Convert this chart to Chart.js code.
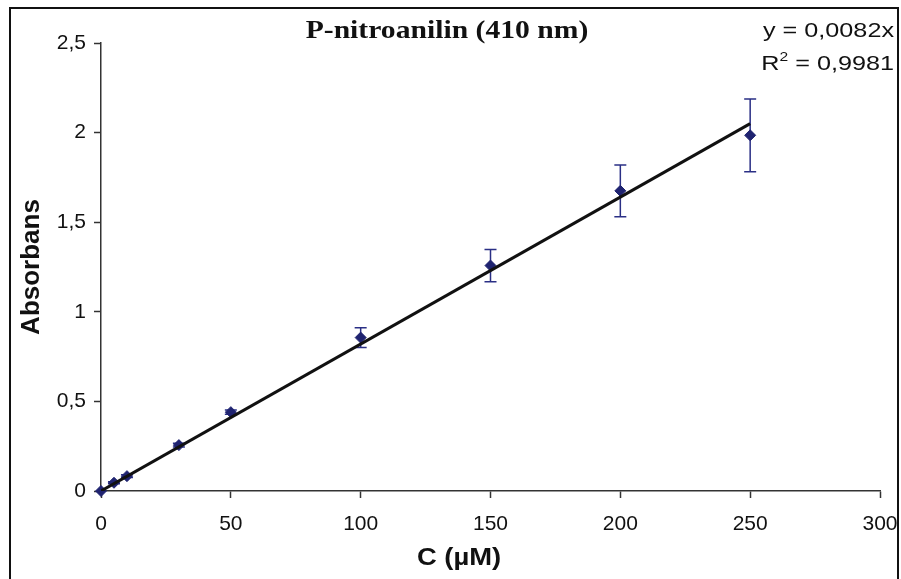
<!DOCTYPE html>
<html>
<head>
<meta charset="utf-8">
<script src="https://cdn.jsdelivr.net/npm/chart.js"></script>
<style>
  html, body { margin: 0; padding: 0; background: #fff; }
  #wrap { position: relative; width: 901px; height: 579px; }
</style>
</head>
<body>
<div id="wrap"><canvas id="chart" width="901" height="579"></canvas></div>
<script>
// data
const concentrations = [0, 5, 10, 30, 50, 100, 150, 200, 250];
const absorbance = [0, 0.046, 0.083, 0.256, 0.44, 0.856, 1.258, 1.675, 1.985];
const stdDev = [0, 0.006, 0.008, 0.01, 0.012, 0.055, 0.09, 0.144, 0.203];
const trendX = [0, 250];
const trendY = [0, 2.05];
const xTicks = [0, 50, 100, 150, 200, 250, 300];
const yTicks = [0, 0.5, 1, 1.5, 2, 2.5];

const titleText = 'P-nitroanilin (410 nm)';
const xTitle = 'C (\u00b5M)';
const yTitle = 'Absorbans';
const eqLine = 'y = 0,0082x';
const r2Value = ' = 0,9981';

const navy = '#1f2370';
const sans = '"Liberation Sans", Arial, sans-serif';
const fmt = v => String(v).replace('.', ',');

// text stretched sideways to match the original's wide lettering
function wideText(ctx, text, x, y, sx, align) {
  ctx.save();
  ctx.translate(x, y);
  ctx.scale(sx, 1);
  ctx.textAlign = align;
  ctx.fillText(text, 0, 0);
  ctx.restore();
}

// frame, title, trendline label and x title
const decorations = {
  id: 'decorations',
  afterDraw(chart) {
    const ctx = chart.ctx;
    ctx.save();
    ctx.strokeStyle = '#111';
    ctx.lineWidth = 2;
    ctx.strokeRect(10, 8, 888, 600);

    ctx.fillStyle = '#111';
    ctx.textBaseline = 'alphabetic';
    ctx.font = 'bold 26px "Liberation Serif", "Times New Roman", serif';
    wideText(ctx, titleText, 447, 38, 1.14, 'center');

    ctx.font = 'bold 23px ' + sans;
    wideText(ctx, xTitle, 459, 565, 1.19, 'center');

    // y = ..., R² = ... (right aligned at the frame)
    const sx = 1.2;
    const right = 894;
    ctx.font = '21px ' + sans;
    wideText(ctx, eqLine, right, 37, sx, 'right');
    const restW = ctx.measureText(r2Value).width * sx;
    wideText(ctx, r2Value, right, 70, sx, 'right');
    ctx.font = '13px ' + sans;
    const supW = ctx.measureText('2').width * sx;
    wideText(ctx, '2', right - restW, 61, sx, 'right');
    ctx.font = '21px ' + sans;
    wideText(ctx, 'R', right - restW - supW, 70, sx, 'right');
    ctx.restore();
  }
};

// error bars from the std devs, through the chart's scales
const errorBars = {
  id: 'errorBars',
  beforeDatasetsDraw(chart) {
    const { ctx, scales: { x, y } } = chart;
    ctx.save();
    ctx.strokeStyle = '#2a2f85';
    ctx.lineWidth = 1.5;
    concentrations.forEach((c, i) => {
      if (!stdDev[i]) return;
      const px = x.getPixelForValue(c);
      const top = y.getPixelForValue(absorbance[i] + stdDev[i]);
      const bot = y.getPixelForValue(absorbance[i] - stdDev[i]);
      ctx.beginPath();
      ctx.moveTo(px, top); ctx.lineTo(px, bot);
      ctx.moveTo(px - 6, top); ctx.lineTo(px + 6, top);
      ctx.moveTo(px - 6, bot); ctx.lineTo(px + 6, bot);
      ctx.stroke();
    });
    ctx.restore();
  }
};

new Chart(document.getElementById('chart'), {
  type: 'scatter',
  data: {
    datasets: [
      {
        label: 'trend',
        type: 'line',
        data: trendX.map((v, i) => ({ x: v, y: trendY[i] })),
        borderColor: '#111',
        borderWidth: 3,
        pointRadius: 0,
        fill: false,
        order: 0
      },
      {
        label: 'Absorbans',
        data: concentrations.map((v, i) => ({ x: v, y: absorbance[i] })),
        pointStyle: 'rectRot',
        pointRadius: 5.5,
        backgroundColor: navy,
        borderColor: navy,
        borderWidth: 1,
        clip: false,
        order: 1
      }
    ]
  },
  options: {
    responsive: false,
    animation: false,
    layout: { padding: { left: 0, top: 43, right: 21, bottom: 0 } },
    plugins: {
      legend: { display: false },
      tooltip: { enabled: false }
    },
    scales: {
      x: {
        type: 'linear',
        min: 0,
        max: 300,
        afterBuildTicks: s => { s.ticks = xTicks.map(v => ({ value: v })); },
        afterFit: s => { s.height = 88; s.paddingLeft = 0; s.paddingRight = 0; },
        ticks: {
          color: '#111',
          padding: 14,
          maxRotation: 0,
          font: { family: sans, size: 21 }
        },
        grid: { drawOnChartArea: false, tickLength: 7, tickColor: '#333', tickWidth: 1.5 },
        border: { color: '#333', width: 1.5 }
      },
      y: {
        min: 0,
        max: 2.5,
        afterBuildTicks: s => { s.ticks = yTicks.map(v => ({ value: v })); },
        afterFit: s => { s.width = 101; s.paddingTop = 0; s.paddingBottom = 0; },
        ticks: {
          color: '#111',
          padding: 8,
          callback: v => fmt(v),
          font: { family: sans, size: 21 }
        },
        title: {
          display: true,
          text: yTitle,
          color: '#111',
          padding: { top: 16, bottom: 0 },
          font: { family: sans, size: 26, weight: 'bold' }
        },
        grid: { drawOnChartArea: false, tickLength: 7, tickColor: '#333', tickWidth: 1.5 },
        border: { color: '#333', width: 1.5 }
      }
    }
  },
  plugins: [errorBars, decorations]
});
</script>
</body>
</html>
